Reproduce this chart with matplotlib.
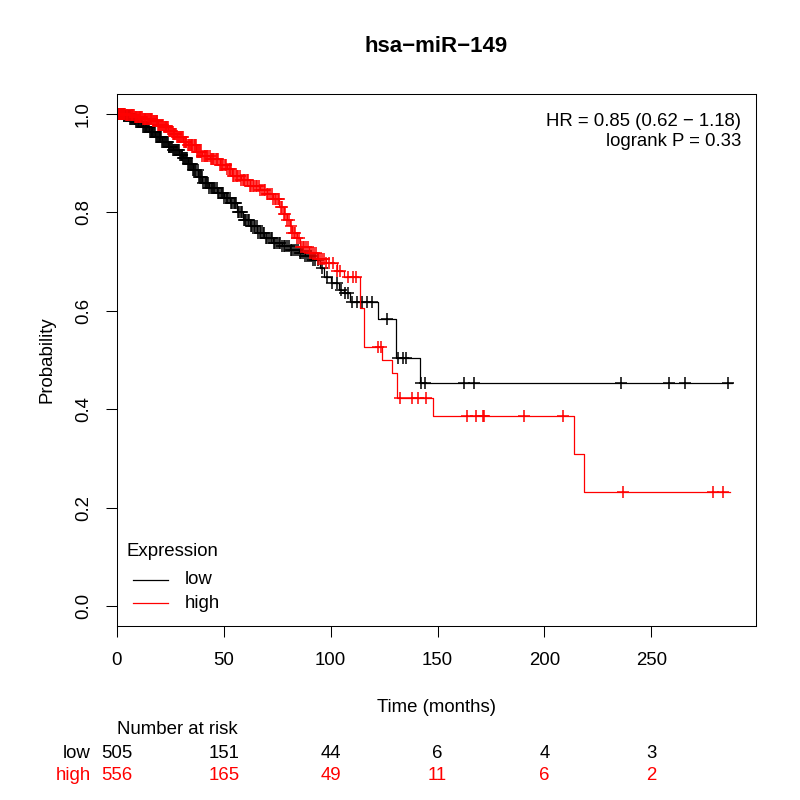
import numpy as np
import matplotlib
matplotlib.use("Agg")
import matplotlib.pyplot as plt
from matplotlib.lines import Line2D

plt.rcParams['font.family'] = ['Liberation Sans', 'DejaVu Sans']

# ### data
title = "hsa\u2212miR\u2212149"
hr_text = "HR = 0.85 (0.62 \u2212 1.18)"
p_text = "logrank P = 0.33"

# low expression group: step times / survival after the step
low_t = [0, 3, 6, 9, 12, 15, 18, 21, 24, 26, 29, 31, 33, 35.6, 38, 40, 43, 47,
         50, 53, 56, 59, 62, 65.5, 69, 73, 77, 81, 85, 88, 91, 95, 97, 100,
         104, 106, 109, 122, 130.5, 142, 288]
low_s = [1.0, 0.995, 0.99, 0.983, 0.973, 0.963, 0.953, 0.943, 0.933, 0.926,
         0.917, 0.91, 0.898, 0.886, 0.872, 0.859, 0.849, 0.839, 0.829, 0.818,
         0.801, 0.784, 0.772, 0.758, 0.748, 0.738, 0.731, 0.723, 0.718, 0.712,
         0.703, 0.687, 0.669, 0.656, 0.642, 0.636, 0.618, 0.583, 0.505, 0.454,
         0.454]
low_cens = [0.3, 0.8, 1.5, 2.2, 2.9, 3.5, 4.4, 5.1, 5.9, 6.6, 7.3, 8.2, 9.0,
            9.7, 10.5, 11.4, 12.1, 13.0, 13.8, 14.5, 15.3, 16.2, 17.0, 17.9,
            18.6, 19.5, 20.3, 21.2, 22.0, 22.8, 23.7, 24.5, 25.4, 26.3, 27.1,
            28.0, 28.9, 29.8, 30.6, 31.5, 32.4, 33.3, 34.1, 35.0, 36.2, 37.1,
            38.3, 39.2, 40.4, 41.5, 42.6, 43.8, 44.9, 46.0, 47.3, 48.5, 49.6,
            50.9, 52.1, 53.4, 54.6, 55.9, 57.2, 58.5, 59.8, 61.2, 62.5, 63.9,
            65.3, 66.8, 68.2, 69.7, 71.2, 72.6, 74.1, 75.7, 77.3, 78.8, 80.4,
            82.1, 83.7, 85.4, 87.2, 89.0, 90.9, 92.8, 94.1, 96.0, 98.2, 100.5,
            102.8, 104.7, 106.9, 108.2, 110.0, 112.1, 114.6, 117.0, 119.3,
            126.4, 131.5, 133.8, 135.2, 142.1, 144.0, 162.4, 167.0, 235.8,
            258.3, 265.8, 286.0,
            0.5, 1.1, 1.9, 2.6, 3.2, 4.0, 4.8, 5.5, 6.2, 7.0, 7.8, 8.6, 9.4,
            10.1, 11.0, 11.8, 12.6, 13.4, 14.2, 14.9, 15.8, 16.6, 17.5, 18.3,
            19.1, 19.9, 20.8, 21.6, 22.4, 23.3, 24.1, 25.0, 25.9, 26.7, 27.6,
            28.5, 29.4, 30.2, 31.1, 32.0, 32.9, 33.7, 34.6, 35.6, 36.7, 37.7,
            38.8, 39.8, 41.0, 42.1, 43.2, 44.4, 45.5, 46.6, 47.9, 49.1, 50.3,
            51.5, 52.8, 54.0, 55.3, 56.6, 57.9, 59.2, 60.5, 61.9, 63.2, 64.6,
            66.0, 67.5, 68.9, 70.4, 71.9, 73.4, 74.9, 76.5, 78.0, 79.6, 81.3,
            83.0, 84.6, 86.3, 88.1, 90.0, 91.8]

# high expression group
high_t = [0, 4, 8, 12, 17, 19, 21.5, 24, 26, 28, 31, 33, 37, 40, 43.5, 48,
          51.5, 54, 58, 62, 67, 70, 73, 76, 78, 79.5, 81, 82, 84, 85.6, 90, 94,
          98, 103, 106, 113.5, 115.5, 124, 128.5, 131, 148, 214, 218.5, 287]
high_s = [1.0, 0.997, 0.993, 0.99, 0.985, 0.978, 0.972, 0.965, 0.958, 0.952,
          0.943, 0.936, 0.922, 0.915, 0.908, 0.896, 0.888, 0.873, 0.865, 0.853,
          0.845, 0.836, 0.827, 0.81, 0.797, 0.784, 0.772, 0.758, 0.748, 0.73,
          0.717, 0.705, 0.697, 0.68, 0.669, 0.605, 0.527, 0.5, 0.474, 0.422,
          0.387, 0.31, 0.233, 0.233]
high_cens = [0.2, 0.7, 1.2, 1.9, 2.5, 3.1, 3.8, 4.6, 5.3, 6.0, 6.8, 7.5, 8.3,
             9.1, 9.8, 10.6, 11.3, 12.2, 13.0, 13.7, 14.6, 15.4, 16.1, 17.0,
             17.8, 18.5, 19.4, 20.2, 21.0, 21.9, 22.7, 23.5, 24.4, 25.2, 26.1,
             26.9, 27.8, 28.6, 29.5, 30.4, 31.3, 32.1, 33.0, 34.0, 34.9, 35.8,
             36.8, 37.9, 38.9, 40.0, 41.1, 42.2, 43.3, 44.5, 45.6, 46.8, 48.0,
             49.2, 50.4, 51.7, 52.9, 54.2, 55.5, 56.8, 58.1, 59.5, 60.8, 62.2,
             63.6, 65.0, 66.4, 67.9, 69.3, 70.8, 72.3, 73.8, 75.2, 76.7, 78.1,
             79.6, 81.2, 82.8, 84.3, 86.0, 87.7, 89.5, 91.3, 93.2, 95.1, 97.0,
             99.1, 101.2, 103.0, 104.4, 108.0, 110.2, 112.0, 122.0, 123.5,
             132.4, 138.0, 141.0, 144.6, 163.8, 168.0, 171.3, 171.7, 190.5,
             208.7, 236.8, 278.9, 283.6,
             0.4, 0.9, 1.5, 2.2, 2.8, 3.4, 4.2, 4.9, 5.6, 6.4, 7.1, 7.9, 8.7,
             9.4, 10.2, 10.9, 11.7, 12.6, 13.3, 14.1, 15.0, 15.7, 16.5, 17.4,
             18.1, 18.9, 19.8, 20.6, 21.4, 22.3, 23.1, 23.9, 24.8, 25.6, 26.5,
             27.3, 28.2, 29.0, 29.9, 30.8, 31.7, 32.5, 33.5, 34.4, 35.3, 36.3,
             37.3, 38.4, 39.4, 40.5, 41.6, 42.7, 43.9, 45.0, 46.2, 47.4, 48.6,
             49.8, 51.0, 52.3, 53.5, 54.8, 56.1, 57.4, 58.8, 60.1, 61.5, 62.9,
             64.3, 65.7, 67.1, 68.6, 70.0, 71.5, 73.0, 74.5, 75.9, 77.4, 78.8,
             80.4, 82.0, 83.5, 85.1, 86.8, 88.6, 90.4, 92.2, 94.1, 96.0, 98.0]

risk_times = [0, 50, 100, 150, 200, 250]
risk_low = [505, 151, 44, 6, 4, 3]
risk_high = [556, 165, 49, 11, 6, 2]

RED = '#FF0000'
FS = 13.4


def surv_at(times, surv, x):
    """value of the step function (post) at x"""
    idx = np.searchsorted(times, x, side='right') - 1
    return np.asarray(surv)[idx]


def draw_group(ax, t, s, cens, color):
    ax.step(t, s, where='post', color=color, lw=0.9)
    cy = surv_at(t, s, cens)
    ax.plot(cens, cy, ls='none', marker='+', ms=8.5, mew=1.1, color=color)


fig = plt.figure(figsize=(8, 8), dpi=100)
ax = fig.add_axes([117 / 800, 1 - 626 / 800, (756 - 117) / 800, (626 - 94) / 800])

draw_group(ax, low_t, low_s, low_cens, 'black')
draw_group(ax, high_t, high_s, high_cens, RED)

ax.set_xlim(0, 299)
ax.set_ylim(-0.04, 1.04)
ax.set_xticks(risk_times)
ax.set_yticks([0, 0.2, 0.4, 0.6, 0.8, 1.0])
ax.set_yticklabels(['0.0', '0.2', '0.4', '0.6', '0.8', '1.0'], rotation=90, va='center')
ax.tick_params(axis='both', direction='out', length=8, width=0.75, labelsize=FS)
ax.tick_params(axis='x', pad=11)
ax.tick_params(axis='y', pad=10)
for sp in ax.spines.values():
    sp.set_linewidth(0.75)

ax.set_ylabel('Probability', fontsize=FS, labelpad=14)

fig.text(436 / 800, 1 - 47 / 800, title, ha='center', va='center',
         fontsize=16, fontweight='bold')
fig.text(741 / 800, 1 - 121 / 800, hr_text, ha='right', va='center', fontsize=FS)
fig.text(741 / 800, 1 - 141 / 800, p_text, ha='right', va='center', fontsize=FS)

# legend drawn by hand like R legend()
fig.text(127 / 800, 1 - 552 / 800, 'Expression', ha='left', va='center', fontsize=FS)
for yy, lab, col in [(580, 'low', 'black'), (603, 'high', RED)]:
    fig.add_artist(Line2D([133 / 800, 168 / 800], [1 - yy / 800, 1 - yy / 800],
                          color=col, lw=0.9))
    fig.text(185 / 800, 1 - yy / 800, lab, ha='left', va='center', fontsize=FS)

fig.text(436 / 800, 1 - 707 / 800, 'Time (months)', ha='center', va='center', fontsize=FS)

# number at risk table
fig.text(117 / 800, 1 - 730 / 800, 'Number at risk', ha='left', va='center', fontsize=FS)
fig.text(91 / 800, 1 - 753 / 800, 'low', ha='right', va='center', fontsize=FS)
fig.text(91 / 800, 1 - 776 / 800, 'high', ha='right', va='center', fontsize=FS, color=RED)
for tt, nl, nh in zip(risk_times, risk_low, risk_high):
    xf = ax.transData.transform((tt, 0))[0] / fig.bbox.width
    fig.text(xf, 1 - 753 / 800, str(nl), ha='center', va='center', fontsize=FS)
    fig.text(xf, 1 - 776 / 800, str(nh), ha='center', va='center', fontsize=FS, color=RED)

fig.savefig('out.png', dpi=100)
